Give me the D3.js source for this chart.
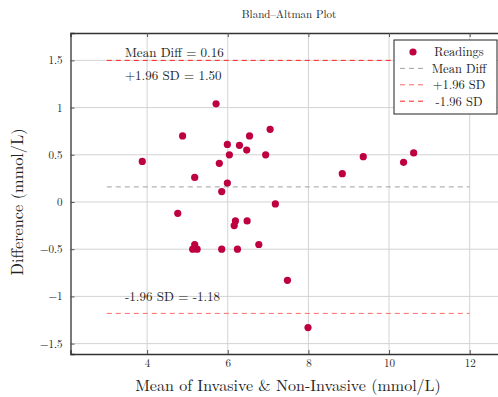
<!DOCTYPE html>
<html lang="en">
<head>
    <meta charset="UTF-8">
    <title>Bland–Altman Plot</title>
    <script src="https://d3js.org/d3.v7.min.js"></script>
    <style>
        body { margin: 0; background: #fff; }
        svg text { font-family: "Latin Modern Roman", "Liberation Serif", serif; fill: #222; }
    </style>
</head>
<body>
    <div id="chart"></div>
    <script>
        // Mean of the two methods (mmol/L)
        const means = [5.71, 4.88, 7.05, 6.54, 5.99, 6.29, 6.47, 6.04, 6.94, 3.88, 5.79,
                       5.18, 5.99, 5.85, 7.18, 4.76, 6.19, 6.16, 6.48, 5.18, 5.13, 5.24,
                       5.85, 6.24, 6.77, 7.48, 7.99, 8.84, 9.36, 10.36, 10.61];
        // Difference between the two methods (mmol/L)
        const diffs = [1.04, 0.70, 0.77, 0.70, 0.61, 0.60, 0.55, 0.50, 0.50, 0.43, 0.41,
                       0.26, 0.20, 0.11, -0.02, -0.12, -0.20, -0.25, -0.20, -0.45, -0.50, -0.50,
                       -0.50, -0.50, -0.45, -0.83, -1.33, 0.30, 0.48, 0.42, 0.52];
        const meanDiff = 0.16;
        const upperLoA = 1.50;
        const lowerLoA = -1.18;
        const lineRange = [3, 12];
        const xTicks = [4, 6, 8, 10, 12];
        const yTicks = [-1.5, -1, -0.5, 0, 0.5, 1, 1.5];
        const legendItems = ["Readings", "Mean Diff", "+1.96 SD", "-1.96 SD"];

        const W = 498, H = 397;
        const margin = { top: 33, right: -8, bottom: 43, left: 70.5 };
        const width = W - margin.left - margin.right;
        const height = H - margin.top - margin.bottom;

        const fmt = v => String(v).replace("-", "\u2212");

        const svg = d3.select("#chart").append("svg")
            .attr("width", W).attr("height", H);
        const g = svg.append("g")
            .attr("transform", "translate(" + margin.left + "," + margin.top + ")");

        const x = d3.scaleLinear().domain([2.1, 12.9]).range([0, width]);
        const y = d3.scaleLinear().domain([-1.61, 1.79]).range([height, 0]);

        // grid
        g.selectAll(".gx").data(xTicks).enter().append("line")
            .attr("x1", d => x(d)).attr("x2", d => x(d))
            .attr("y1", 0).attr("y2", height)
            .attr("stroke", "#d3d3d3").attr("stroke-width", 1);
        g.selectAll(".gy").data(yTicks).enter().append("line")
            .attr("x1", 0).attr("x2", width)
            .attr("y1", d => y(d)).attr("y2", d => y(d))
            .attr("stroke", "#d3d3d3").attr("stroke-width", 1);

        // axes (ticks inside)
        const xAxis = d3.axisBottom(x).tickValues(xTicks).tickSize(-4).tickPadding(5).tickFormat(fmt);
        const yAxis = d3.axisLeft(y).tickValues(yTicks).tickSize(-4).tickPadding(8).tickFormat(fmt);
        const xTop = d3.axisTop(x).tickValues(xTicks).tickSize(-4).tickFormat("");

        const gx = g.append("g").attr("transform", "translate(0," + height + ")").call(xAxis);
        const gy = g.append("g").call(yAxis);
        const gt = g.append("g").call(xTop);
        [gx, gy, gt].forEach(a => {
            a.select(".domain").attr("stroke", "#333").attr("stroke-width", 1.3);
            a.selectAll(".tick line").attr("stroke", "#555");
            a.selectAll(".tick text").style("font-size", "11px").attr("fill", "#222");
        });

        // reference lines
        const refs = [
            { v: meanDiff, color: "#a0a0a0" },
            { v: upperLoA, color: "#ff2020" },
            { v: lowerLoA, color: "#ff6a6a" }
        ];
        g.selectAll(".ref").data(refs).enter().append("line")
            .attr("x1", x(lineRange[0])).attr("x2", x(lineRange[1]))
            .attr("y1", d => y(d.v)).attr("y2", d => y(d.v))
            .attr("stroke", d => d.color).attr("stroke-width", 1)
            .attr("stroke-dasharray", "5,4");

        // points
        g.selectAll(".pt").data(means.map((m, i) => [m, diffs[i]])).enter().append("circle")
            .attr("cx", d => x(d[0])).attr("cy", d => y(d[1]))
            .attr("r", 3.6).attr("fill", "#bf0040");

        // annotations
        const notes = [
            { t: "Mean Diff = " + meanDiff.toFixed(2), y: 1.58 },
            { t: "+1.96 SD = " + upperLoA.toFixed(2), y: 1.34 },
            { t: "-1.96 SD = " + lowerLoA.toFixed(2), y: -1.0 }
        ];
        g.selectAll(".note").data(notes).enter().append("text")
            .attr("x", x(3.45)).attr("y", d => y(d.y))
            .attr("dy", "0.35em")
            .style("font-size", "13px")
            .text(d => d.t);

        // title
        svg.append("text").attr("x", 289).attr("y", 18)
            .attr("text-anchor", "middle").style("font-size", "11px")
            .text("Bland–Altman Plot");

        // axis labels
        svg.append("text").attr("x", 288).attr("y", 391)
            .attr("text-anchor", "middle").style("font-size", "16px")
            .text("Mean of Invasive & Non-Invasive (mmol/L)");
        svg.append("text")
            .attr("transform", "translate(23," + (margin.top + y(0)) + ") rotate(-90)")
            .attr("text-anchor", "middle").style("font-size", "16.3px")
            .text("Difference (mmol/L)");

        // legend
        const lg = svg.append("g").attr("transform", "translate(394,40)");
        lg.append("rect").attr("width", 103).attr("height", 74)
            .attr("fill", "#fff").attr("stroke", "#222").attr("stroke-width", 1);
        const lcol = ["#bf0040", "#a0a0a0", "#ff6a6a", "#ff2020"];
        legendItems.forEach((name, i) => {
            const yy = 12 + i * 16.4;
            if (i === 0) {
                lg.append("circle").attr("cx", 19).attr("cy", yy).attr("r", 3.6).attr("fill", lcol[i]);
            } else {
                lg.append("line").attr("x1", 6).attr("x2", 31).attr("y1", yy).attr("y2", yy)
                    .attr("stroke", lcol[i]).attr("stroke-dasharray", "5,4");
            }
            lg.append("text").attr("x", 65).attr("y", yy).attr("dy", "0.35em")
                .attr("text-anchor", "middle").style("font-size", "12.5px").text(name);
        });
    </script>
</body>
</html>
